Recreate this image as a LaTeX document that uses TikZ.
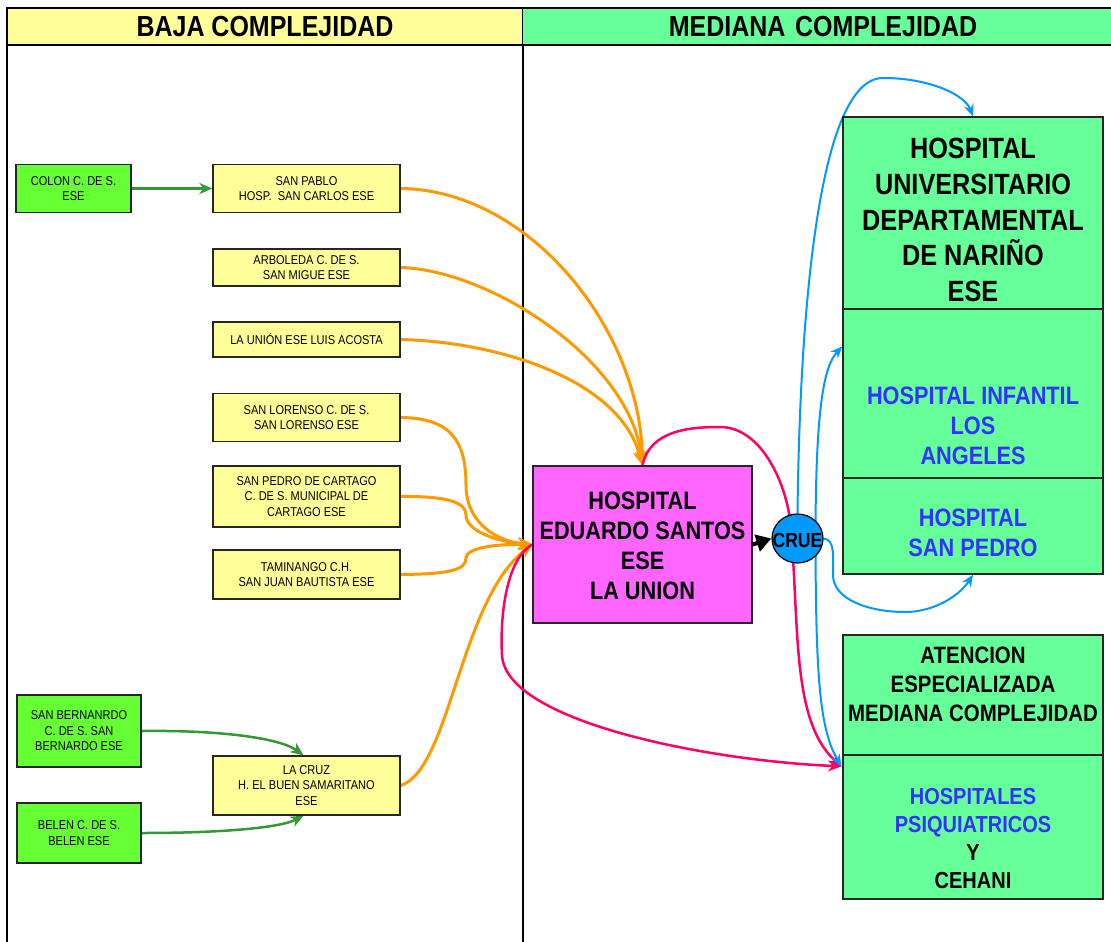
\documentclass[tikz,border=0pt]{standalone}
\usepackage{fontspec}
\setmainfont{Liberation Sans}[FakeStretch=0.862]
\usetikzlibrary{arrows.meta,shapes.geometric,calc}
\definecolor{yel}{HTML}{FFFF99}
\definecolor{hgreen}{HTML}{66FF99}
\definecolor{lgreen}{HTML}{66FF33}
\definecolor{mag}{HTML}{FF66FF}
\definecolor{cruec}{HTML}{0099FF}
\definecolor{orangec}{HTML}{FF9900}
\definecolor{redc}{HTML}{FF0066}
\definecolor{bluet}{HTML}{3333FF}
\definecolor{dgreen}{HTML}{339933}
\pgfdeclarelayer{back}
\pgfdeclarelayer{conn}
\pgfsetlayers{back,conn,main}
\begin{document}
\begin{tikzpicture}[x=1pt,y=-1pt,
  sbox/.style={draw=black!85, line width=1.3pt, fill=yel, inner sep=0pt, align=center,
    font=\fontsize{12.8}{15.5}\selectfont, minimum width=187pt},
  gsbox/.style={sbox, fill=lgreen},
  gbox/.style={draw=black!85, line width=1.3pt, fill=hgreen, inner sep=0pt, minimum width=260pt},
  btxt/.style={align=center, inner sep=0pt, font=\bfseries\fontsize{25.2}{30}\selectfont},
  hdr/.style={draw=black, line width=1.2pt, inner sep=0pt, minimum height=37pt,
    font=\bfseries\fontsize{29}{30}\selectfont},
  oarr/.style={draw=orangec, line width=3pt, -{Stealth[length=14pt,width=12pt,inset=4pt]}},
  rarr/.style={draw=redc, line width=2.5pt, -{Stealth[length=13pt,width=11pt,inset=4pt]}},
  barr/.style={draw=cruec, line width=2pt, -{Stealth[length=12pt,width=10pt,inset=4pt]}},
  garr/.style={draw=dgreen, line width=2.5pt, -{Stealth[length=13pt,width=11pt,inset=4pt]}},
]
\useasboundingbox (0,0) rectangle (1111,942);
\begin{pgfonlayer}{back}
\fill[white] (0,0) rectangle (1111,942);
\draw[line width=1.2pt] (7,8) -- (7,942);
\draw[line width=1.2pt] (523,8) -- (523,942);
\end{pgfonlayer}

% headers
\node[hdr, fill=yel, minimum width=516pt] (hbaja) at (265,26.5) {BAJA COMPLEJIDAD};
\node[hdr, fill=hgreen, minimum width=590pt, text width=578pt, align=center] (hmed) at (817.5,26.5) {\hspace*{11pt}MEDIANA COMPLEJIDAD};

% left nodes
\node[gsbox, minimum width=115pt, minimum height=48pt] (colon) at (73.5,188.5) {COLON C. DE S.\\ESE};
\node[sbox, minimum height=48pt] (sanpablo) at (306.5,188.5) {SAN PABLO\\HOSP.\ \ SAN CARLOS ESE};
\node[sbox, minimum height=37pt] (arboleda) at (306.5,267.5) {ARBOLEDA C. DE S.\\SAN MIGUE ESE};
\node[sbox, minimum height=35pt] (launion) at (306.5,339.5) {LA UNIÓN ESE LUIS ACOSTA};
\node[sbox, minimum height=48pt] (lorenso) at (306.5,417.5) {SAN LORENSO C. DE S.\\SAN LORENSO ESE};
\node[sbox, minimum height=61pt] (cartago) at (306.5,496.5) {SAN PEDRO DE CARTAGO\\C. DE S. MUNICIPAL DE\\CARTAGO ESE};
\node[sbox, minimum height=49pt] (taminango) at (306.5,574.5) {TAMINANGO C.H.\\SAN JUAN BAUTISTA ESE};
\node[sbox, minimum height=59pt] (lacruz) at (306.5,785.5) {LA CRUZ\\H. EL BUEN SAMARITANO\\ESE};
\node[gsbox, minimum width=124pt, minimum height=72pt] (sanbern) at (79,731) {SAN BERNANRDO\\C. DE S. SAN\\BERNARDO ESE};
\node[gsbox, minimum width=124pt, minimum height=60pt] (belen) at (79,833) {BELEN C. DE S.\\BELEN ESE};

% central
\node[draw=black!85, line width=1.3pt, fill=mag, minimum width=219pt, minimum height=157pt, inner sep=0pt] (mag) at (642.5,544.5) {};
\node[btxt] (magtxt) at (642.5,546) {HOSPITAL\\EDUARDO SANTOS\\ESE\\LA UNION};
\node[ellipse, draw=black, line width=1.2pt, fill=cruec, minimum width=51pt, minimum height=49pt, inner sep=0pt] (crue) at (797.5,538.5) {};
\node[inner sep=0pt, font=\bfseries\fontsize{20.4}{22}\selectfont] (cruetxt) at (797.5,540) {CRUE};

% right boxes
\node[gbox, minimum height=192pt] (hud) at (973,213) {};
\node[gbox, minimum height=169pt] (inf) at (973,393.5) {};
\node[gbox, minimum height=96pt] (sp) at (973,526) {};
\node[gbox, minimum height=120pt] (aten) at (973,695) {};
\node[gbox, minimum height=144pt] (psych) at (973,827) {};

\node[btxt, font=\bfseries\fontsize{29.3}{35.7}\selectfont] (hudtxt) at (973,220) {HOSPITAL\\UNIVERSITARIO\\DEPARTAMENTAL\\DE NARIÑO\\ESE};
\node[btxt, text=bluet] (inftxt) at (973,426) {HOSPITAL INFANTIL\\LOS\\ANGELES};
\node[btxt, text=bluet] (sptxt) at (973,533) {HOSPITAL\\SAN PEDRO};
\node[btxt, font=\bfseries\fontsize{23.7}{29}\selectfont] (atentxt) at (973,684) {ATENCION\\ESPECIALIZADA\\MEDIANA COMPLEJIDAD};
\node[btxt, font=\bfseries\fontsize{23.2}{28}\selectfont] (psychtxt) at (973,839) {\textcolor{bluet}{HOSPITALES}\\\textcolor{bluet}{PSIQUIATRICOS}\\Y\\CEHANI};

\coordinate (infin) at ($(inf.north west)+(0,38)$);
\coordinate (psin) at ($(psych.north west)+(-1,12)$);

\begin{pgfonlayer}{conn}
% green
\draw[garr] (colon.east) -- (sanpablo.west);
\draw[garr] (sanbern.east) .. controls (220,730) and (280,738) .. ($(lacruz.north)+(-3,0)$);
\draw[garr] (belen.east) .. controls (220,833) and (280,828) .. ($(lacruz.south)+(-3,0)$);
% orange
\draw[oarr] (sanpablo.east) .. controls (530,190) and (640,330) .. (mag.north);
\draw[oarr] (arboleda.east) .. controls (490,270) and (630,360) .. (mag.north);
\draw[oarr] (launion.east) .. controls (500,342) and (620,380) .. (mag.north);
\draw[oarr] (lorenso.east) .. controls (450,418) and (466,440) .. (466,485) .. controls (466,525) and (500,542) .. (mag.west);
\draw[oarr] (cartago.east) .. controls (450,496) and (466,503) .. (466,515) .. controls (466,532) and (500,542) .. (mag.west);
\draw[oarr] (taminango.east) .. controls (450,574) and (466,570) .. (466,558) .. controls (466,547) and (500,544) .. (mag.west);
\draw[oarr] (lacruz.east) .. controls (450,770) and (460,600) .. (mag.west);
% red
\draw[rarr] (mag.north) .. controls (650,430) and (690,427) .. (720,427) .. controls (760,427) and (785,480) .. (790,520) .. controls (800,620) and (790,720) .. (psin);
\draw[rarr] (mag.west) .. controls (505,560) and (500,620) .. (502,655) .. controls (505,720) and (700,760) .. (psin);
% blue
\draw[barr] (crue.north) .. controls (800,300) and (820,78) .. (883,78) .. controls (930,78) and (965,95) .. (hud.north);
\draw[barr] ($(crue.center)+(18,-8)$) .. controls (816,400) and (825,365) .. (infin);
\draw[barr] ($(crue.center)+(18,8)$) .. controls (816,680) and (820,730) .. (psin);
\draw[barr] (crue.east) .. controls (835,540) and (833,555) .. (833,575) .. controls (833,600) and (870,612) .. (905,612) .. controls (935,612) and (960,595) .. (sp.south);
\end{pgfonlayer}
% black arrow
\draw[line width=4pt, -{Triangle[length=15pt,width=17pt]}] (mag.east) -- (crue.west);
\end{tikzpicture}
\end{document}
